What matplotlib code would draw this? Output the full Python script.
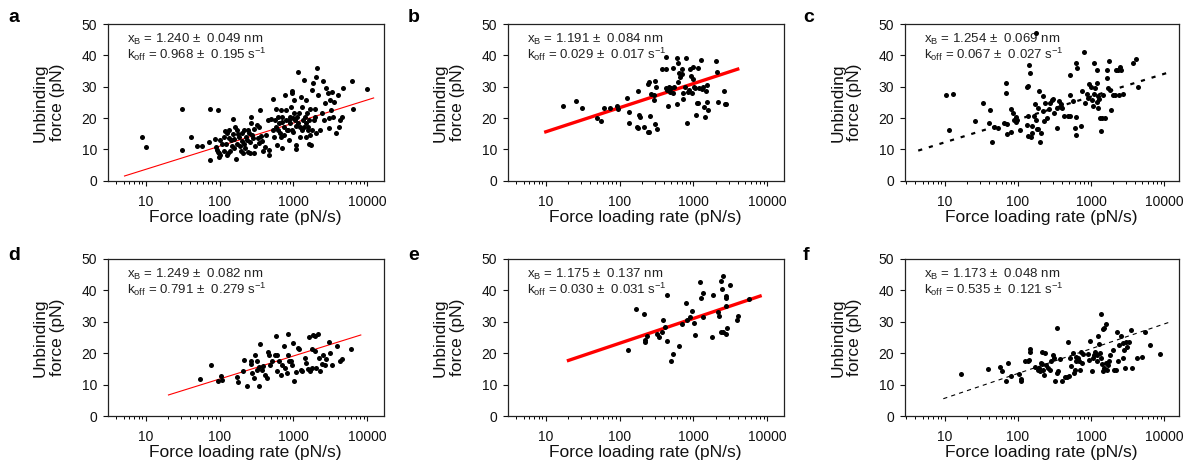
import numpy as np
import matplotlib
matplotlib.use("Agg")
from matplotlib import pyplot as plt
from matplotlib.ticker import LogLocator, NullFormatter, FixedLocator

plt.rcParams['font.family'] = ['Liberation Sans', 'DejaVu Sans']
plt.rcParams['mathtext.fontset'] = 'custom'
plt.rcParams['mathtext.rm'] = 'Liberation Sans'
plt.rcParams['mathtext.it'] = 'Liberation Sans:italic'
plt.rcParams['mathtext.default'] = 'regular'
plt.rcParams['lines.scale_dashes'] = False

# ---- panel a ----
a_rate = [8.8, 10.2, 31, 31, 41, 49, 57, 75, 71, 96, 75, 87, 90, 93, 97, 99, 102, 115, 120, 125, 129, 135,
          143, 150, 153, 159, 167, 174, 185, 190, 199, 208, 216, 222, 233, 250, 264, 259, 270, 284, 295, 292,
          318, 355, 343, 370, 410, 470, 470, 490, 535, 560, 580, 600, 610, 645, 670, 690, 710, 740, 770, 800,
          840, 880, 900, 950, 970, 1000, 1030, 1070, 1100, 1140, 1190, 1230, 1270, 1290, 1350, 1400, 1470,
          1490, 1520, 1590, 1650, 1700, 1770, 1830, 1890, 1960, 2000, 2100, 2170, 2270, 2410, 2500, 2580,
          2700, 2800, 2920, 2990, 3050, 3160, 3260, 3330, 3420, 3570, 3730, 4000, 4100, 4300, 4500, 4650,
          6500, 6200, 9900,
          96, 100, 107, 114, 122, 127, 133, 140, 146, 156, 162, 171, 180, 193, 204, 212, 229, 240, 245, 255,
          276, 305, 330, 337, 360, 390, 430, 455,
          525, 545, 575, 625, 655, 680, 700, 750, 790, 810, 860, 890, 940, 960, 990, 1020, 1060, 1080, 1130,
          1160, 1230, 1320, 1380, 1440, 1500, 1560, 1620, 1670, 1720, 1800, 1930, 2000]
a_force = [13.9, 10.9, 22.9, 9.9, 14.0, 11.1, 11.1, 22.9, 12.3, 22.4, 6.5, 13.3, 10.7, 9.8, 8.8, 7.7, 8.2, 9.6,
           16.0, 15.1, 8.9, 13.5, 13.0, 19.7, 14.8, 10.3, 6.8, 16.2, 13.8, 11.1, 12.7, 8.7, 16.2, 10.3, 13.0,
           15.1, 20.4, 8.7, 18.3, 13.5, 16.6, 8.9, 17.9, 22.6, 11.9, 12.8, 10.6, 8.1, 9.8, 19.8, 26.0, 19.4,
           22.8, 11.4, 16.2, 18.3, 14.0, 10.3, 20.4, 17.2, 27.3, 19.4, 16.2, 13.0, 18.3, 28.7, 27.9, 15.6, 25.7,
           11.4, 10.0, 34.6, 21.5, 17.2, 26.8, 23.6, 19.4, 32.1, 14.0, 25.7, 21.7, 17.2, 11.7, 22.8, 28.9, 31.1,
           19.4, 22.8, 33.2, 36.1, 27.3, 16.2, 21.5, 31.7, 19.4, 24.7, 29.5, 28.1, 19.9, 16.7, 25.7, 22.6, 28.4,
           20.4, 25.2, 15.1, 27.3, 17.2, 19.4, 20.4, 29.5, 22.8, 31.9, 29.3,
           9.3, 13.0, 11.7, 14.0, 11.6, 8.2, 16.2, 9.5, 11.1, 13.2, 17.2, 11.7, 14.9, 9.6, 15.1, 11.7, 13.8,
           16.2, 9.3, 12.4, 14.6, 11.1, 13.5, 17.0, 14.3, 9.5, 14.6, 19.4,
           16.2, 14.0, 17.2, 20.4, 15.1, 22.6, 18.8, 14.6, 22.6, 16.2, 19.4, 20.4, 23.6, 16.2, 19.9, 21.5, 19.4,
           17.4, 20.4, 18.3, 14.0, 16.2, 17.2, 20.4, 18.3, 16.2, 19.4, 14.6, 11.4, 16.2, 20.4, 15.1]
a_fit_rate = [5.15, 12200]
a_fit_force = [1.5, 26.4]

# ---- panel b ----
b_rate = [17, 26, 31, 50, 56, 61, 73, 92, 95, 126, 135, 133, 178, 171, 180, 186, 190, 216, 240, 253, 257, 240,
          250, 270, 290, 292, 305, 310, 302, 318, 370, 430, 430, 430, 445, 450, 465, 480, 500, 525, 535, 545,
          595, 615, 620, 640, 660, 600, 690, 700, 730, 730, 770, 805, 825, 840, 880, 895, 915, 950, 985, 1000,
          1010, 1050, 1080, 1110, 1170, 1170, 1190, 1270, 1290, 1330, 1400, 1450, 1480, 1510, 1530, 1560,
          2010, 2100, 2120, 2600, 2700, 2780]
b_force = [23.8, 25.3, 23.1, 20.1, 19.0, 23.2, 23.1, 23.8, 22.8, 26.4, 22.0, 18.4, 28.5, 17.2, 16.7, 21.0, 20.2,
           17.2, 15.6, 15.4, 20.6, 30.9, 31.5, 27.7, 27.3, 25.7, 31.7, 30.0, 18.1, 16.5, 35.5, 35.5, 39.6, 29.7,
           28.9, 23.9, 30.0, 28.4, 29.5, 28.1, 35.9, 30.0, 24.4, 31.6, 37.4, 34.5, 33.2, 39.3, 35.5, 34.0, 27.9,
           26.1, 30.0, 39.0, 18.5, 28.4, 28.9, 35.6, 33.5, 27.9, 36.2, 32.3, 30.0, 29.5, 21.0, 24.7, 24.7, 36.1,
           29.7, 38.5, 29.3, 30.0, 23.6, 20.3, 28.6, 25.2, 30.5, 22.6, 38.2, 34.7, 25.0, 28.7, 24.6, 24.4]
b_fit_rate = [10, 3980]
b_fit_force = [15.6, 35.6]

# ---- panel c ----
c_rate = [10.4, 13, 11.6, 26, 33, 42, 40, 45, 47, 54, 65, 69, 70, 72, 72, 81, 82, 86, 90, 96, 98, 96, 106, 132,
          133, 137, 140, 143, 147, 137, 151, 154, 158, 169, 173, 175, 177, 183, 191, 191, 198, 200, 207, 218,
          222, 230, 237, 252, 268, 273, 289, 302, 311, 339, 347, 363, 392, 385, 406, 423, 487, 520, 520, 570,
          600, 620, 620, 650, 630, 510, 740, 760, 810, 835, 880, 900, 945, 990, 1030, 1070, 1090, 1110, 1150,
          1190, 1210, 1220, 1240, 1260, 1290, 1320, 1350, 1420, 1450, 1560, 1630, 1650, 1700, 1780, 1810, 1900,
          2000, 2100, 2170, 2350, 2400, 2510, 2560, 2700, 4350, 3800, 4100]
c_force = [27.5, 27.7, 16.3, 19.0, 24.8, 22.4, 18.4, 12.5, 17.1, 16.7, 18.4, 27.9, 31.1, 18.2, 14.9, 22.9, 15.4,
           21.6, 19.5, 20.3, 19.3, 18.6, 16.3, 17.9, 30.0, 20.8, 30.3, 37.0, 34.3, 14.2, 13.9, 15.2, 17.4, 20.5,
           24.6, 47.0, 19.5, 16.5, 23.2, 16.5, 28.5, 12.4, 15.2, 22.1, 27.1, 18.9, 24.8, 19.9, 22.9, 24.8, 25.8,
           26.1, 21.6, 16.8, 23.2, 25.5, 24.6, 23.5, 23.2, 20.5, 20.5, 20.5, 27.4, 25.4, 16.8, 14.6, 20.2, 35.9,
           37.7, 33.8, 17.6, 28.7, 41.2, 24.8, 27.7, 26.3, 30.9, 30.0, 25.8, 23.7, 37.7, 27.7, 29.5, 25.0, 31.1,
           35.3, 23.2, 27.1, 26.2, 20.0, 16.0, 20.0, 27.4, 20.0, 35.3, 32.7, 29.5, 38.1, 28.8, 22.4, 27.4, 27.4,
           35.3, 35.3, 27.2, 36.4, 35.3, 27.7, 30.0, 37.5, 38.8]
c_fit_rate = [4.36, 11700]
c_fit_force = [9.6, 34.6]

# ---- panel d ----
d_rate = [54, 76, 96, 104, 109, 174, 180, 209, 216, 233, 264, 270, 276, 295, 305, 318, 322, 338, 343, 358, 372,
          387, 410, 435, 455, 470, 485, 505, 555, 580, 590, 600, 630, 680, 710, 740, 770, 810, 840, 840, 880,
          920, 950, 980, 1030, 1080, 1170, 1200, 1270, 1320, 1440, 1480, 1590, 1620, 1660, 1770, 1800, 1860,
          1930, 1960, 2000, 2170, 2200, 2270, 2410, 2540, 2690, 2800, 3000, 3150, 3300, 3870, 4300, 4500, 6000]
d_force = [11.9, 16.1, 11.0, 12.6, 11.6, 12.3, 10.7, 14.4, 17.8, 9.4, 17.4, 16.6, 13.7, 12.1, 19.3, 17.6, 14.8,
           15.5, 9.4, 22.9, 14.8, 15.8, 13.2, 12.1, 20.4, 19.5, 16.3, 17.4, 19.3, 25.4, 14.2, 19.3, 17.4, 13.2,
           16.3, 22.2, 15.3, 13.7, 26.1, 19.3, 17.6, 17.4, 16.3, 23.2, 11.3, 14.0, 21.7, 21.3, 14.8, 14.2, 18.5,
           16.9, 15.0, 25.1, 14.2, 15.3, 21.4, 25.9, 20.6, 25.6, 15.3, 26.1, 18.5, 14.2, 16.6, 19.5, 16.3, 18.3,
           23.6, 20.0, 16.1, 22.3, 17.4, 18.2, 21.4]
d_fit_rate = [20.3, 8170]
d_fit_force = [6.7, 25.8]

# ---- panel e ----
e_rate = [129, 167, 216, 218, 223, 233, 322, 345, 370, 390, 410, 440, 435, 490, 535, 630, 690, 790, 810, 900,
          950, 1030, 1040, 1240, 1270, 1330, 1350, 1770, 1840, 2120, 2240, 2360, 2410, 2540, 2520, 2360, 2770,
          2800, 2800, 2800, 2870, 3150, 3870, 4000, 5600]
e_force = [20.9, 34.2, 32.6, 23.6, 24.3, 25.4, 26.2, 25.2, 26.8, 30.5, 28.2, 23.8, 38.6, 17.6, 19.9, 22.4, 29.4,
           36.1, 30.5, 31.4, 33.3, 29.6, 25.7, 42.7, 37.6, 39.3, 31.4, 25.1, 38.4, 33.1, 31.7, 42.9, 40.3, 44.5,
           26.8, 26.6, 37.6, 38.1, 35.0, 26.0, 28.0, 41.6, 30.7, 32.0, 37.4]
e_fit_rate = [20.3, 8000]
e_fit_force = [17.7, 38.2]

# ---- panel f ----
f_rate = [17, 39, 57, 60, 69, 73, 80, 105, 109, 109, 125, 143, 146, 146, 140, 171, 186, 195, 200, 207, 213, 215,
          222, 228, 233, 245, 259, 274, 288, 302, 310, 322, 339, 346, 356, 375, 396, 440, 464, 488, 505, 525,
          540, 570, 582, 600, 620, 630, 665, 690, 700, 720, 750, 770, 910, 945, 965, 1020, 1050, 1110, 1140,
          1190, 1210, 1260, 1300, 1320, 1350, 1380, 1410, 1440, 1470, 1500, 1530, 1580, 1600, 1670, 1720,
          1770, 1840, 2000, 2090, 2200, 2250, 2370, 2420, 2540, 2700, 2760, 2850, 2900, 3000, 3100, 3300,
          3500, 3620, 4200, 5000, 5400, 6400, 8900]
f_force = [13.3, 14.9, 15.6, 14.4, 11.3, 17.0, 12.6, 13.5, 11.9, 11.2, 17.6, 17.8, 21.4, 20.5, 17.6, 15.7, 14.7,
           15.4, 14.2, 16.8, 20.5, 16.6, 14.7, 12.9, 20.0, 16.3, 15.4, 14.7, 17.4, 19.5, 18.4, 11.2, 13.7, 27.9,
           14.2, 18.2, 11.0, 12.3, 12.3, 23.5, 12.6, 18.4, 16.0, 20.0, 13.7, 14.7, 17.4, 18.9, 18.4, 17.6, 14.7,
           20.5, 16.8, 19.7, 19.7, 17.8, 23.9, 14.2, 18.6, 19.5, 20.5, 17.4, 19.3, 25.6, 22.9, 20.0, 18.4, 32.5,
           16.5, 27.7, 14.2, 27.9, 15.2, 29.2, 16.8, 14.7, 16.3, 17.6, 19.5, 21.1, 14.7, 14.7, 26.7, 17.6, 22.6,
           25.6, 18.4, 23.2, 21.1, 15.4, 23.7, 22.1, 23.5, 27.4, 15.4, 18.4, 18.9, 26.7, 22.6, 19.8]
f_fit_rate = [9.6, 12600]
f_fit_force = [5.5, 30.1]

labels = ['a', 'b', 'c', 'd', 'e', 'f']
xb_text = ['1.240 \u00b1  0.049', '1.191 \u00b1  0.084', '1.254 \u00b1  0.069',
           '1.249 \u00b1  0.082', '1.175 \u00b1  0.137', '1.173 \u00b1  0.048']
koff_text = ['0.968 \u00b1  0.195', '0.029 \u00b1  0.017', '0.067 \u00b1  0.027',
             '0.791 \u00b1  0.279', '0.030 \u00b1  0.031', '0.535 \u00b1  0.121']

rates = [a_rate, b_rate, c_rate, d_rate, e_rate, f_rate]
forces = [a_force, b_force, c_force, d_force, e_force, f_force]
fit_rates = [a_fit_rate, b_fit_rate, c_fit_rate, d_fit_rate, e_fit_rate, f_fit_rate]
fit_forces = [a_fit_force, b_fit_force, c_fit_force, d_fit_force, e_fit_force, f_fit_force]

# line style of the fit in each panel
fit_style = [dict(color='#ff0000', lw=0.8),
             dict(color='#ff0000', lw=2.4),
             dict(color='black', lw=1.6, dashes=[3, 5]),
             dict(color='#ff0000', lw=0.8),
             dict(color='#ff0000', lw=2.4),
             dict(color='black', lw=0.8, dashes=[3, 3])]

W, H = 1189, 468
fig = plt.figure(figsize=(W / 100, H / 100), dpi=100)

# axes boxes in pixels: left, top, right, bottom
boxes = [(107.7, 24, 383.7, 180.7), (507.7, 24, 783.7, 180.7), (904.7, 24, 1178.7, 180.7),
         (107.7, 259, 383.7, 416), (507.7, 259, 783.7, 416), (904.7, 259, 1178.7, 416)]
xlims = [(3.05, 16700), (3.05, 16700), (2.85, 15800), (3.05, 16700), (3.05, 16700), (2.85, 15800)]
letter_pos = [(8, 22), (408, 22), (803, 22), (8, 260), (408, 260), (803, 260)]

for i in range(6):
    l, t, r, b = boxes[i]
    ax = fig.add_axes([l / W, 1 - b / H, (r - l) / W, (b - t) / H])
    ax.set_xscale('log')
    ax.scatter(rates[i], forces[i], s=13, color='black', linewidths=0, zorder=3)
    ax.plot(fit_rates[i], fit_forces[i], zorder=2, **fit_style[i])
    ax.set_xlim(*xlims[i])
    ax.set_ylim(0, 50)
    ax.xaxis.set_major_locator(FixedLocator([10, 100, 1000, 10000]))
    ax.set_xticklabels(['10', '100', '1000', '10000'])
    ax.xaxis.set_minor_locator(LogLocator(base=10, subs=np.arange(2, 10), numticks=20))
    ax.xaxis.set_minor_formatter(NullFormatter())
    ax.set_yticks([0, 10, 20, 30, 40, 50])
    ax.tick_params(axis='both', which='major', direction='out', length=3.5, width=0.8,
                   labelsize=10, colors='#111111', top=False, right=False)
    ax.tick_params(axis='x', which='major', pad=6.5)
    ax.tick_params(axis='y', which='major', pad=4)
    ax.tick_params(axis='x', which='minor', direction='out', length=2, width=0.7, top=False)
    for sp in ax.spines.values():
        sp.set_linewidth(0.9)
        sp.set_color('#222222')
    ax.set_xlabel('Force loading rate (pN/s)', fontsize=12.5, labelpad=1, color='#111111')
    ax.set_ylabel('Unbinding\nforce (pN)', fontsize=12.5, color='#111111', linespacing=1.15)
    ax.yaxis.set_label_coords(-0.155, 0.5)
    ax.text(0.069, 0.904, 'x$_{\\mathrm{B}}$ = ' + xb_text[i] + ' nm', transform=ax.transAxes,
            fontsize=9.5, va='center', ha='left', color='#222222', zorder=1)
    ax.text(0.069, 0.807, 'k$_{\\mathrm{off}}$ = ' + koff_text[i] + ' s$^{-1}$', transform=ax.transAxes,
            fontsize=9.5, va='center', ha='left', color='#222222', zorder=1)
    fig.text(letter_pos[i][0] / W, 1 - letter_pos[i][1] / H, labels[i], fontsize=14,
             fontweight='bold', va='baseline', ha='left')

fig.savefig('out.png', dpi=100)
